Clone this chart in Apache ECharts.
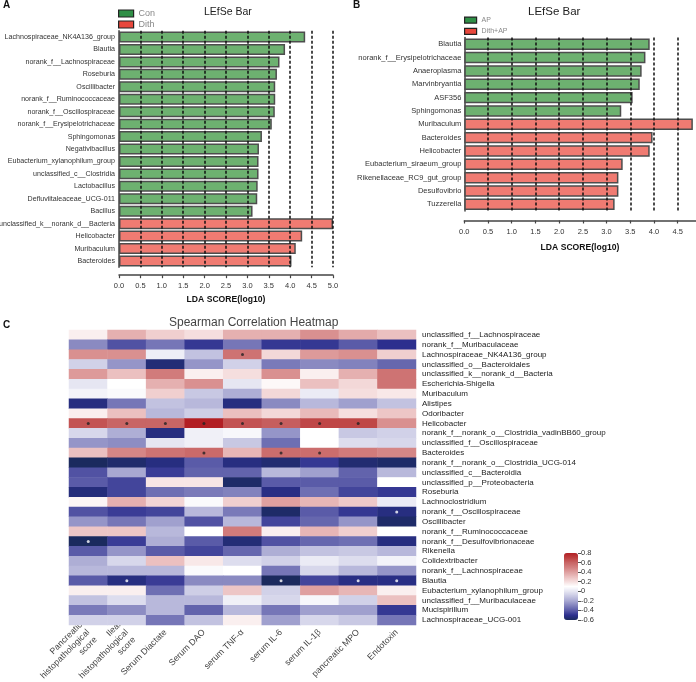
<!DOCTYPE html>
<html><head><meta charset="utf-8">
<script src="https://cdn.jsdelivr.net/npm/echarts@6/dist/echarts.min.js"></script>
<style>html,body{margin:0;padding:0;background:#fff}#c{width:696px;height:682px}</style>
</head><body><div id="c"></div>
<script>
const FONT = '"Liberation Sans", Arial, sans-serif';

// ---- Panel A ----
const aConNames = ['Lachnospiraceae_NK4A136_group','Blautia','norank_f__Lachnospiraceae','Roseburia','Oscillibacter','norank_f__Ruminococcaceae','norank_f__Oscillospiraceae','norank_f__Erysipelotrichaceae','Sphingomonas','Negativibacillus','Eubacterium_xylanophilum_group','unclassified_c__Clostridia','Lactobacillus','Defluviitaleaceae_UCG-011','Bacillus'];
const aConValues = [4.35,3.88,3.75,3.69,3.65,3.65,3.64,3.57,3.34,3.27,3.26,3.26,3.24,3.23,3.12];
const aDithNames = ['unclassified_k__norank_d__Bacteria','Helicobacter','Muribaculum','Bacteroides'];
const aDithValues = [5.0,4.28,4.13,4.03];
const aGridTicks = [0.5,1.0,1.5,2.0,2.5,3.0,3.5,4.0,4.5,5.0];

// ---- Panel B ----
const bApNames = ['Blautia','norank_f__Erysipelotrichaceae','Anaeroplasma','Marvinbryantia','ASF356','Sphingomonas'];
const bApValues = [3.91,3.82,3.74,3.70,3.55,3.31];
const bDithNames = ['Muribaculum','Bacteroides','Helicobacter','Eubacterium_siraeum_group','Rikenellaceae_RC9_gut_group','Desulfovibrio','Tuzzerella'];
const bDithValues = [4.82,3.97,3.91,3.34,3.25,3.25,3.17];
const bGridTicks = [0.5,1.0,1.5,2.0,2.5,3.0,3.5,4.0,4.5];

// ---- Panel C ----
const cCols = ['Pancreatic\nhistopathological\nscore','Ileal\nhistopathological\nscore','Serum Diactate','Serum DAO','serum TNF-α','serum IL-6','serum IL-1β','pancreatic MPO','Endotoxin'];
const cRows = ['unclassified_f__Lachnospiraceae','norank_f__Muribaculaceae','Lachnospiraceae_NK4A136_group','unclassified_o__Bacteroidales','unclassified_k__norank_d__Bacteria','Escherichia-Shigella','Muribaculum','Alistipes','Odoribacter','Helicobacter','norank_f__norank_o__Clostridia_vadinBB60_group','unclassified_f__Oscillospiraceae','Bacteroides','norank_f__norank_o__Clostridia_UCG-014','unclassified_c__Bacteroidia','unclassified_p__Proteobacteria','Roseburia','Lachnoclostridium','norank_f__Oscillospiraceae','Oscillibacter','norank_f__Ruminococcaceae','norank_f__Desulfovibrionaceae','Rikenella','Colidextribacter','norank_f__Lachnospiraceae','Blautia','Eubacterium_xylanophilum_group','unclassified_f__Muribaculaceae','Mucispirillum','Lachnospiraceae_UCG-001'];
const cValues = [
 [0.15,0.35,0.25,0.2,0.35,0.35,0.45,0.37,0.3],
 [-0.28,-0.42,-0.33,-0.48,-0.33,-0.48,-0.48,-0.4,-0.5],
 [0.45,0.45,0.03,-0.12,0.55,0.22,0.42,0.45,0.25],
 [-0.07,-0.25,-0.55,-0.25,-0.07,-0.32,-0.28,-0.3,-0.37],
 [0.42,0.3,0.52,0.15,0.2,0.45,0.15,0.35,0.55],
 [0.0,0.1,0.35,0.45,0.0,0.12,0.3,0.22,0.55],
 [0.05,0.08,0.25,-0.1,-0.18,0.22,0.02,0.2,0.17],
 [-0.53,-0.33,-0.12,-0.15,-0.53,-0.28,-0.15,-0.22,-0.12],
 [0.15,0.3,-0.15,-0.08,0.3,0.22,0.32,0.2,0.28],
 [0.65,0.6,0.6,0.8,0.65,0.62,0.68,0.68,0.45],
 [-0.05,-0.18,-0.53,0.04,0.07,-0.25,0.1,-0.1,-0.07],
 [-0.25,-0.27,0.0,0.04,-0.1,-0.35,0.1,-0.03,-0.05],
 [0.3,0.48,0.55,0.58,0.33,0.57,0.57,0.52,0.48],
 [-0.6,-0.57,-0.53,-0.4,-0.53,-0.56,-0.48,-0.56,-0.58],
 [-0.42,-0.2,-0.47,-0.38,-0.38,-0.15,-0.22,-0.38,-0.15],
 [-0.4,-0.45,0.18,0.18,-0.58,-0.4,-0.4,-0.4,0.1],
 [-0.54,-0.45,-0.35,-0.32,-0.3,-0.52,-0.35,-0.45,-0.48],
 [0.13,0.35,0.23,0.08,0.25,0.4,0.33,0.27,0.02],
 [-0.42,-0.47,-0.45,-0.15,-0.32,-0.58,-0.4,-0.48,-0.53],
 [-0.25,-0.33,-0.22,-0.42,-0.15,-0.45,-0.37,-0.25,-0.58],
 [0.28,0.28,-0.15,0.1,0.52,0.15,0.33,0.25,0.1],
 [-0.6,-0.47,-0.18,-0.4,-0.55,-0.42,-0.37,-0.35,-0.53],
 [-0.4,-0.25,-0.4,-0.45,-0.37,-0.18,-0.12,-0.1,-0.15],
 [-0.18,-0.05,0.3,0.17,-0.03,-0.07,0.02,-0.03,0.05],
 [-0.15,-0.15,-0.15,0.08,0.1,-0.33,-0.05,-0.15,-0.25],
 [-0.4,-0.53,-0.47,-0.28,-0.28,-0.6,-0.45,-0.52,-0.52],
 [0.15,0.15,-0.35,-0.08,0.28,-0.07,0.4,0.33,0.15],
 [-0.12,-0.03,-0.15,-0.15,0.04,-0.05,0.07,-0.07,0.3],
 [-0.32,-0.27,-0.15,-0.38,-0.15,-0.33,-0.22,-0.22,-0.48],
 [-0.07,-0.07,-0.33,-0.12,0.15,-0.22,-0.05,-0.1,-0.33]
];
// significant cells [row, col]
const cSig = [[2,4],[9,0],[9,1],[9,2],[9,3],[9,4],[9,5],[9,6],[9,7],[12,3],[12,5],[12,6],[18,8],[21,0],[25,1],[25,5],[25,7],[25,8]];
const cScaleMin = -0.6, cScaleMax = 0.8;
// colour-bar tick labels in tenths (-0.6 .. 0.8 step 0.2)
const cBarTicksTenths = {min: -6, max: 8, step: 2};
const cPalette = ['#1b2a5e','#2c2f8e','#5a5ba8','#8282bd','#a8a8d2','#c8c8e3','#e6e6f2','#ffffff','#f5dede','#ebc0c0','#dfa0a0','#d38080','#c86565','#bd4040','#b21f24'];

// ---- build ----
const GREEN = '#6db170', RED = '#f07b72', BORDER = '#4d4d4d';
const aCats = aConNames.concat(aDithNames);
const bCats = bApNames.concat(bDithNames);
const dash = n => Array(n).fill('-');
const lineMark = ticks => ({
  silent: true, symbol: ['none','none'], animation: false,
  label: {show: false},
  lineStyle: {color: '#111', type: [3,2], width: 1.5},
  data: ticks.map(v => ({xAxis: v}))
});
const heatData = [];
cValues.forEach((row, r) => row.forEach((v, c) => heatData.push([c, r, v])));

const legendItem = (name, color) => ({name, itemStyle: {color, borderColor: '#222', borderWidth: 1.2}});
const G = {outerBoundsMode: 'none', containLabel: false};

const option = {
  animation: false,
  textStyle: {fontFamily: FONT},
  title: [
    {text: 'A', left: 3, top: 0, padding: 0, textStyle: {fontSize: 10, fontWeight: 'bold', color: '#111', fontFamily: FONT}},
    {text: 'LEfSe Bar', left: 204, top: 7, padding: 0, textStyle: {fontSize: 10.5, fontWeight: 'normal', color: '#222', fontFamily: FONT}},
    {text: 'B', left: 353, top: 0, padding: 0, textStyle: {fontSize: 10, fontWeight: 'bold', color: '#111', fontFamily: FONT}},
    {text: 'LEfSe Bar', left: 528, top: 6, padding: 0, textStyle: {fontSize: 11.5, fontWeight: 'normal', color: '#222', fontFamily: FONT}},
    {text: 'C', left: 3, top: 320, padding: 0, textStyle: {fontSize: 10, fontWeight: 'bold', color: '#111', fontFamily: FONT}},
    {text: 'Spearman Correlation Heatmap', left: 169, top: 317, padding: 0, textStyle: {fontSize: 12, fontWeight: 'normal', color: '#444', fontFamily: FONT}}
  ],
  legend: [
    {orient: 'vertical', left: 118, top: 9, padding: 0, itemWidth: 15, itemHeight: 7, itemGap: 2, icon: 'rect',
     textStyle: {fontSize: 9, lineHeight: 9, color: '#888', fontFamily: FONT},
     data: [legendItem('Con', '#2f8f46'), legendItem('Dith', '#e8473c')]},
    {orient: 'vertical', left: 464, top: 16.5, padding: 0, itemWidth: 12, itemHeight: 6, itemGap: 4, icon: 'rect',
     textStyle: {fontSize: 7, lineHeight: 7, color: '#888', fontFamily: FONT},
     data: [legendItem('AP', '#2f8f46'), legendItem('Dith+AP', '#e8473c')]}
  ],
  grid: [
    Object.assign({left: 119, top: 30.8, width: 214, height: 236.4}, G),
    Object.assign({left: 464.3, top: 37.6, width: 231.4, height: 173.4}, G),
    Object.assign({left: 69, top: 330, width: 347, height: 295}, G),
    Object.assign({left: 578, top: 553, width: 1, height: 67}, G)
  ],
  xAxis: [
    {gridIndex: 0, type: 'value', min: 0, max: 5, interval: 0.5, offset: 8,
     axisLine: {show: true, lineStyle: {color: '#444', width: 1.5}},
     axisTick: {show: true, length: 3, lineStyle: {color: '#444', width: 1.2}},
     axisLabel: {fontSize: 7.5, color: '#333', margin: 7, formatter: v => v.toFixed(1)},
     splitLine: {show: false},
     name: 'LDA SCORE(log10)', nameLocation: 'middle', nameGap: 19.5,
     nameTextStyle: {fontSize: 8.6, fontWeight: 'bold', color: '#111', fontFamily: FONT}},
    {gridIndex: 1, type: 'value', min: 0, max: 4.88, interval: 0.5, offset: 9.5,
     axisLine: {show: true, lineStyle: {color: '#444', width: 1.5}},
     axisTick: {show: true, length: 3, lineStyle: {color: '#444', width: 1.2}},
     axisLabel: {fontSize: 7.5, color: '#333', margin: 7, showMaxLabel: false,
       formatter: v => (Math.abs(Math.round(v * 2) - v * 2) < 1e-6 ? v.toFixed(1) : '')},
     splitLine: {show: false},
     name: 'LDA SCORE(log10)', nameLocation: 'middle', nameGap: 23,
     nameTextStyle: {fontSize: 8.6, fontWeight: 'bold', color: '#111', fontFamily: FONT}},
    {gridIndex: 2, type: 'category', data: cCols, position: 'bottom',
     axisLine: {show: false}, axisTick: {show: false}, splitLine: {show: false},
     axisLabel: {interval: 0, rotate: 45, fontSize: 8.8, lineHeight: 10.5, color: '#444', margin: 6}},
    {gridIndex: 3, type: 'value', show: false, min: 0, max: 1}
  ],
  yAxis: [
    {gridIndex: 0, type: 'category', data: aCats, inverse: true,
     axisLine: {show: true, lineStyle: {color: '#444', width: 1.5}},
     axisTick: {show: false}, axisLabel: {interval: 0, fontSize: 7.1, color: '#333', margin: 4}},
    {gridIndex: 1, type: 'category', data: bCats, inverse: true,
     axisLine: {show: true, lineStyle: {color: '#444', width: 1.5}},
     axisTick: {show: false}, axisLabel: {interval: 0, fontSize: 7.5, color: '#333', margin: 3}},
    {gridIndex: 2, type: 'category', data: cRows, inverse: true, position: 'right',
     axisLine: {show: false}, axisTick: {show: false}, splitLine: {show: false},
     axisLabel: {interval: 0, fontSize: 8, color: '#222', margin: 6}},
    {gridIndex: 3, type: 'value', min: cBarTicksTenths.min, max: cBarTicksTenths.max, interval: cBarTicksTenths.step, position: 'right',
     axisLine: {show: false}, splitLine: {show: false},
     axisTick: {show: true, length: 3, lineStyle: {color: '#555'}},
     axisLabel: {fontSize: 7.5, color: '#333', margin: 2, showMinLabel: true, showMaxLabel: true,
       formatter: v => (v === 0 ? '0' : (v / 10).toFixed(1))}}
  ],
  visualMap: {
    type: 'continuous', min: cScaleMin, max: cScaleMax, seriesIndex: 4,
    left: 564, top: 553, itemWidth: 14, itemHeight: 67, padding: 0,
    calculable: false, hoverLink: false,
    inRange: {color: cPalette}
  },
  series: [
    {name: 'Con', type: 'bar', xAxisIndex: 0, yAxisIndex: 0, stack: 'A', barCategoryGap: '12%',
     data: aConValues.concat(dash(aDithNames.length)),
     itemStyle: {color: GREEN, borderColor: BORDER, borderWidth: 1.5}},
    {name: 'Dith', type: 'bar', xAxisIndex: 0, yAxisIndex: 0, stack: 'A', barCategoryGap: '12%',
     data: dash(aConNames.length).concat(aDithValues),
     itemStyle: {color: RED, borderColor: BORDER, borderWidth: 1.5},
     markLine: lineMark(aGridTicks)},
    {name: 'AP', type: 'bar', xAxisIndex: 1, yAxisIndex: 1, stack: 'B', barCategoryGap: '14%',
     data: bApValues.concat(dash(bDithNames.length)),
     itemStyle: {color: GREEN, borderColor: BORDER, borderWidth: 1.5}},
    {name: 'Dith+AP', type: 'bar', xAxisIndex: 1, yAxisIndex: 1, stack: 'B', barCategoryGap: '14%',
     data: dash(bApNames.length).concat(bDithValues),
     itemStyle: {color: RED, borderColor: BORDER, borderWidth: 1.5},
     markLine: lineMark(bGridTicks)},
    {name: 'corr', type: 'heatmap', xAxisIndex: 2, yAxisIndex: 2, data: heatData, progressive: 0,
     emphasis: {disabled: true}},
    {name: 'sig', type: 'scatter', xAxisIndex: 2, yAxisIndex: 2, symbol: 'circle', symbolSize: 3, z: 5,
     data: cSig.map(([r, c]) => [c, r]),
     itemStyle: {color: p => (cValues[p.value[1]][p.value[0]] > 0 ? '#222' : '#fff')},
     emphasis: {disabled: true}},
    {name: 'cbar', type: 'line', xAxisIndex: 3, yAxisIndex: 3, data: []}
  ]
};
const chart = echarts.init(document.getElementById('c'), null, {renderer: 'canvas'});
chart.setOption(option);
</script>
</body></html>
